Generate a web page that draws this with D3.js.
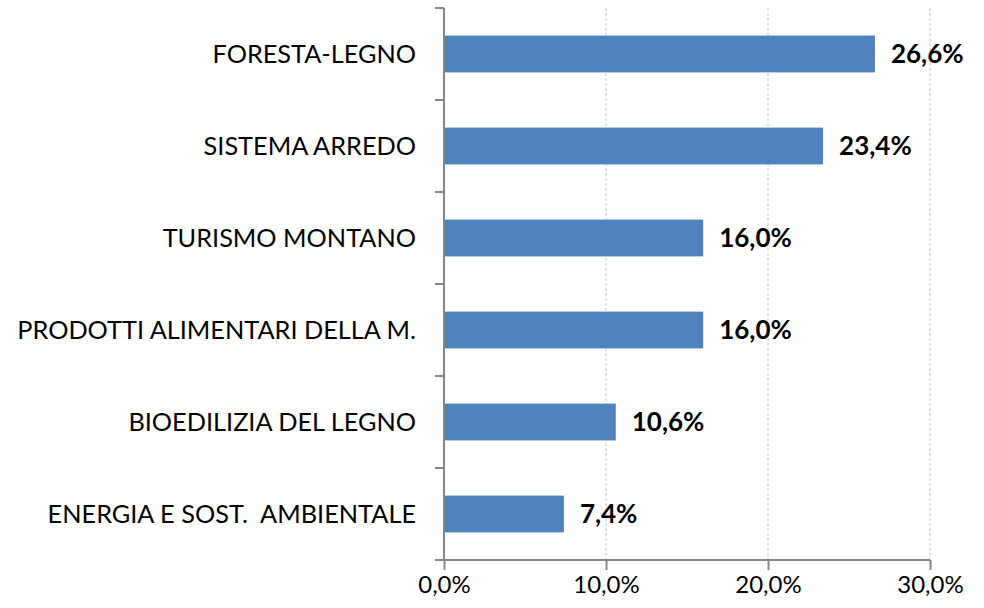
<!DOCTYPE html>
<html>
<head>
<meta charset="utf-8">
<script src="https://cdn.jsdelivr.net/npm/d3@7"></script>
<style>
  body { margin: 0; background: #fff; }
  text { font-family: Lato, "Open Sans", sans-serif; fill: #000; white-space: pre; }
</style>
</head>
<body>
<script>
// Chart size
let width = 984;
let height = 608;

// Data (top to bottom)
const categories = [
  "FORESTA-LEGNO",
  "SISTEMA ARREDO",
  "TURISMO MONTANO",
  "PRODOTTI ALIMENTARI DELLA M.",
  "BIOEDILIZIA DEL LEGNO",
  "ENERGIA E SOST.  AMBIENTALE"
];
const values = [26.6, 23.4, 16.0, 16.0, 10.6, 7.4];
const xTicks = [0, 10, 20, 30];

// Colors
let bar_color = "#4f81bd";
let axis_color = "#868686";
let grid_color = "#c8c8c8";

let svg = d3.select("body")
  .append("svg")
  .attr("width", width)
  .attr("height", height);

const plot = {left: 444, right: 930, top: 8, bottom: 560};

const x = d3.scaleLinear()
  .domain([0, 30])
  .range([plot.left, plot.right]);

const y = d3.scaleBand()
  .domain(categories)
  .range([plot.top, plot.bottom])
  .paddingInner(0.6)
  .paddingOuter(0.3);

const yEdges = d3.scaleLinear()
  .domain([0, categories.length])
  .range([plot.top, plot.bottom]);

const fmt = v => d3.format(".1f")(v).replace(".", ",") + "%";

// gridlines
svg.append("g")
  .selectAll("line")
  .data(xTicks.slice(1))
  .enter().append("line")
  .attr("x1", d => x(d))
  .attr("x2", d => x(d))
  .attr("y1", plot.top)
  .attr("y2", plot.bottom)
  .attr("stroke", grid_color)
  .attr("stroke-width", 1)
  .attr("stroke-dasharray", "3,2");

// bars
svg.append("g")
  .selectAll("rect")
  .data(values)
  .enter().append("rect")
  .attr("x", x(0))
  .attr("y", (d, i) => y(categories[i]))
  .attr("width", d => x(d) - x(0))
  .attr("height", y.bandwidth())
  .attr("fill", bar_color);

// value labels
svg.append("g")
  .selectAll("text")
  .data(values)
  .enter().append("text")
  .attr("x", d => x(d) + 16)
  .attr("y", (d, i) => y(categories[i]) + y.bandwidth() / 2)
  .attr("dy", "0.36em")
  .attr("font-size", 26)
  .attr("font-weight", "bold")
  .text(d => fmt(d));

// y axis (category ticks at band edges)
let yAxis = svg.append("g");
yAxis.append("line")
  .attr("x1", x(0)).attr("x2", x(0))
  .attr("y1", plot.top).attr("y2", plot.bottom)
  .attr("stroke", axis_color).attr("stroke-width", 2);
yAxis.selectAll(".tick")
  .data(d3.range(categories.length))
  .enter().append("line")
  .attr("x1", x(0) - 9).attr("x2", x(0))
  .attr("y1", d => yEdges(d)).attr("y2", d => yEdges(d))
  .attr("stroke", axis_color).attr("stroke-width", 2);
yAxis.selectAll("text")
  .data(categories)
  .enter().append("text")
  .attr("x", 416)
  .attr("y", d => y(d) + y.bandwidth() / 2)
  .attr("dy", "0.36em")
  .attr("text-anchor", "end")
  .attr("font-size", 25.3)
  .text(d => d);

// x axis
let xAxis = svg.append("g")
  .attr("transform", `translate(0,${plot.bottom})`)
  .call(d3.axisBottom(x).tickValues(xTicks).tickSize(10).tickFormat(fmt));
xAxis.select(".domain")
  .attr("stroke", axis_color).attr("stroke-width", 2)
  .attr("d", `M${x(0) - 9},0H${plot.right}`);
xAxis.selectAll(".tick line").attr("stroke", axis_color).attr("stroke-width", 2);
xAxis.selectAll(".tick text")
  .attr("font-size", 24)
  .attr("font-family", "Lato, sans-serif")
  .attr("fill", "#000")
  .attr("y", 16);
</script>
</body>
</html>
